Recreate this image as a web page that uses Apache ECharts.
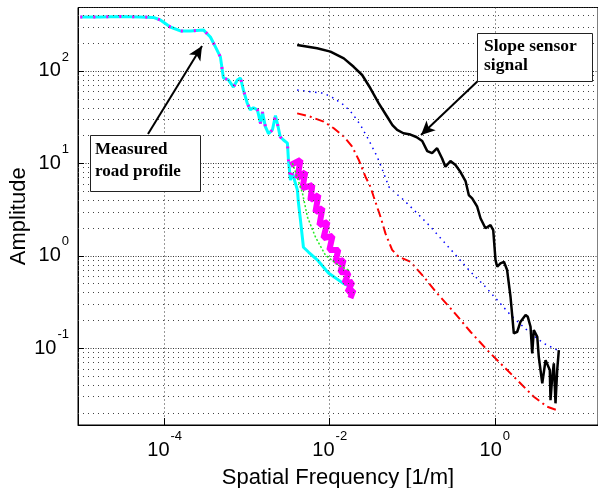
<!DOCTYPE html>
<html>
<head>
<meta charset="utf-8">
<script src="https://cdn.jsdelivr.net/npm/echarts@6/dist/echarts.min.js"></script>
<style>
  html, body { margin: 0; padding: 0; background: #fff; }
  #chart { width: 598px; height: 488px; }
</style>
</head>
<body>
<div id="chart"></div>
<script>
  // measured road profile (cyan trace, magenta trace overlays it at low freq)
  var freqCyan = [9.5e-6, 1.66e-5, 2.9e-5, 5.07e-5, 7.3e-5, 8.87e-5, 1.17e-4, 1.55e-4, 2.05e-4, 2.94e-4,
    3.58e-4, 4.12e-4, 4.73e-4, 5.15e-4, 5.92e-4, 6.81e-4, 7.60e-4, 8.30e-4, 9.0e-4, 1.0e-3,
    1.09e-3, 1.19e-3, 1.33e-3, 1.45e-3, 1.53e-3, 1.66e-3, 1.81e-3, 2.02e-3, 2.20e-3, 2.32e-3,
    2.52e-3, 2.75e-3, 3.07e-3, 3.16e-3, 3.34e-3, 3.53e-3, 4.06e-3, 4.18e-3, 4.42e-3, 4.80e-3,
    5.52e-3, 7.10e-3, 9.64e-3, 1.43e-2, 1.88e-2];
  var ampCyan = [384, 384, 389, 384, 380, 356, 299, 271, 271, 278,
    233, 182, 142, 84, 80, 67, 80, 84, 62, 45,
    38, 40, 38, 27, 36, 25, 21, 23, 33, 27,
    19.3, 17.9, 16.6, 10.9, 6.6, 7.87, 5.15, 3.73, 2.44, 1.24,
    1.10, 0.90, 0.652, 0.51, 0.45];

  // magenta trace, noisy part above ~3e-3 1/m
  var freqMagenta = [3.34e-3, 4.42e-3, 4.06e-3, 5.07e-3, 4.67e-3, 6.16e-3, 5.83e-3, 7.29e-3, 6.71e-3, 8.16e-3,
    7.50e-3, 9.38e-3, 8.39e-3, 1.08e-2, 9.90e-3, 1.27e-2, 1.17e-2, 1.47e-2, 1.35e-2, 1.69e-2,
    1.51e-2, 1.88e-2, 1.64e-2, 1.94e-2, 1.78e-2];
  var ampMagenta = [9.6, 10.9, 6.95, 8.07, 5.42, 5.84, 4.02, 4.55, 2.98, 3.29,
    2.15, 2.32, 1.56, 1.64, 1.16, 1.16, 0.857, 0.90, 0.668, 0.652,
    0.51, 0.52, 0.406, 0.427, 0.349];

  // green trace
  var freqGreen = [3.53e-3, 4.67e-3, 5.37e-3, 6.71e-3, 8.87e-3, 1.27e-2, 1.69e-2];
  var ampGreen = [10.1, 4.78, 2.63, 1.60, 1.02, 0.794, 0.702];

  // slope sensor signal (black)
  var freqSlope = [4.03e-3, 7.03e-3, 1.02e-2, 1.48e-2, 1.95e-2, 2.47e-2, 3.11e-2, 3.93e-2, 4.97e-2, 5.75e-2,
    6.56e-2, 7.82e-2, 9.5e-2, 0.112, 0.132, 0.152, 0.174, 0.200, 0.230, 0.252,
    0.290, 0.334, 0.384, 0.442, 0.484, 0.532, 0.556, 0.612, 0.671, 0.771,
    0.887, 0.957, 1.02, 1.07, 1.17, 1.29, 1.41, 1.55, 1.70, 1.87,
    2.05, 2.36, 2.51, 2.71, 2.84, 2.97, 3.11, 3.27, 3.41, 3.58,
    3.76, 4.12, 4.32, 4.64, 4.73, 4.97, 5.19, 5.44, 5.70, 5.97];
  var ampSlope = [191, 176, 162, 137, 111, 90.5, 65, 44.7, 32.0, 26.0,
    23.0, 21.2, 20.5, 19.3, 17.5, 13.6, 12.9, 14.6, 11.3, 9.2,
    10.6, 9.6, 8.07, 6.45, 4.55, 4.19, 4.36, 3.40, 2.55, 1.99,
    2.15, 1.90, 0.90, 0.762, 0.830, 0.863, 0.702, 0.361, 0.145, 0.151,
    0.194, 0.229, 0.219, 0.171, 0.0881, 0.157, 0.164, 0.133, 0.0809, 0.0581,
    0.0417, 0.0745, 0.0778, 0.0581, 0.0275, 0.0492, 0.0687, 0.0254, 0.0581, 0.0957];

  // blue dotted
  var freqBlue = [4.03e-3, 5.83e-3, 8.45e-3, 1.12e-2, 1.48e-2, 1.87e-2, 2.36e-2, 2.97e-2, 3.76e-2, 4.52e-2,
    5.19e-2, 6.25e-2, 7.89e-2, 0.115, 0.166, 0.241, 0.350, 0.507, 0.736, 1.07,
    1.55, 2.71, 3.93, 5.70];
  var ampBlue = [62.3, 59.7, 57.4, 50.7, 42.9, 34.8, 26.0, 17.9, 11.8, 7.81,
    5.60, 4.78, 4.02, 2.88, 2.07, 1.42, 0.977, 0.673, 0.483, 0.333,
    0.229, 0.145, 0.113, 0.0957];

  // red dash-dot
  var freqRed = [4.03e-3, 5.83e-3, 8.45e-3, 1.12e-2, 1.48e-2, 1.87e-2, 2.25e-2, 2.71e-2, 3.11e-2, 3.41e-2,
    4.12e-2, 4.73e-2, 5.70e-2, 6.85e-2, 9.5e-2, 0.138, 0.200, 0.318, 0.507, 0.809,
    1.17, 1.87, 2.97, 4.32, 5.70];
  var ampRed = [34.8, 32.0, 28.3, 24.0, 19.5, 15.2, 10.9, 7.18, 5.60, 4.36,
    2.65, 1.75, 1.16, 0.977, 0.863, 0.594, 0.393, 0.248, 0.151, 0.0957,
    0.0687, 0.0453, 0.0299, 0.0233, 0.0214];

  // minor grid lines of the amplitude axis
  var minorGridY = [0.02, 0.03, 0.04, 0.05, 0.06, 0.07, 0.08, 0.09,
    0.2, 0.3, 0.4, 0.5, 0.6, 0.7, 0.8, 0.9,
    2, 3, 4, 5, 6, 7, 8, 9,
    20, 30, 40, 50, 60, 70, 80, 90,
    200, 300, 400];

  function pairs(xs, ys) {
    return xs.map(function (x, i) { return [x, ys[i]]; });
  }

  var sansFont = '"Liberation Sans", Arial, sans-serif';
  var serifFont = '"Liberation Serif", "Times New Roman", serif';

  function powLabel(value) {
    var e = Math.log10(value);
    var r = Math.round(e);
    if (Math.abs(e - r) > 1e-6) return '';
    return '{b|10}{s|' + r + '}';
  }
  var labelRich = {
    b: { fontSize: 20, lineHeight: 20, fontFamily: sansFont, color: '#000' },
    s: { fontSize: 13, lineHeight: 13, fontFamily: sansFont, color: '#000', padding: [0, 0, 28, 1] }
  };

  var chart = echarts.init(document.getElementById('chart'));
  var option = {
    animation: false,
    backgroundColor: '#fff',
    grid: {
      left: 78, top: 7.5, width: 520, height: 417.5,
      show: true, borderColor: '#000', borderWidth: 1, backgroundColor: '#fff',
      containLabel: false, outerBoundsMode: 'none'
    },
    xAxis: {
      type: 'log',
      logBase: 100,
      min: 8.91e-6,
      max: 17.8,
      name: 'Spatial Frequency [1/m]',
      nameLocation: 'middle',
      nameGap: 42,
      nameMoveOverlap: false,
      nameTextStyle: { fontSize: 22, fontFamily: sansFont, color: '#000' },
      axisLine: { lineStyle: { color: '#000', width: 1 } },
      axisTick: { inside: true, length: 7, lineStyle: { color: '#000' } },
      axisLabel: { formatter: powLabel, rich: labelRich, margin: 15, showMinLabel: false, showMaxLabel: false },
      splitLine: { show: true, lineStyle: { color: '#333', type: [1, 3], width: 1 } }
    },
    yAxis: {
      type: 'log',
      min: 0.0148,
      max: 486,
      name: 'Amplitude',
      nameLocation: 'middle',
      nameGap: 48,
      nameMoveOverlap: false,
      nameTextStyle: { fontSize: 22, fontFamily: sansFont, color: '#000' },
      axisLine: { lineStyle: { color: '#000', width: 1 } },
      axisTick: { inside: true, length: 6, lineStyle: { color: '#000' } },
      axisLabel: { formatter: powLabel, rich: labelRich, margin: 9, showMinLabel: false, showMaxLabel: false },
      splitLine: { show: true, lineStyle: { color: '#333', type: [1, 1.5], width: 1 } }
    },
    series: [
      {
        name: 'grid', type: 'line', data: [], z: 1, silent: true,
        markLine: {
          silent: true, symbol: 'none', label: { show: false }, animation: false,
          lineStyle: { color: '#444', type: [1, 4], width: 1 },
          data: minorGridY.map(function (v) { return { yAxis: v }; })
        }
      },
      {
        name: 'cyan', type: 'line', data: pairs(freqCyan, ampCyan), showSymbol: false, z: 2,
        lineStyle: { color: '#00ffff', width: 3 }
      },
      {
        name: 'magenta low', type: 'line', data: pairs(freqCyan.slice(0, 36), ampCyan.slice(0, 36)),
        showSymbol: false, z: 3,
        lineStyle: { color: '#ff00ff', width: 3, type: [2, 11] }
      },
      {
        name: 'magenta', type: 'line', data: pairs(freqMagenta, ampMagenta), showSymbol: false, z: 3,
        lineStyle: { color: '#ff00ff', width: 6 }
      },
      {
        name: 'green', type: 'line', data: pairs(freqGreen, ampGreen), showSymbol: false, z: 4,
        lineStyle: { color: '#22ee22', width: 1.5, type: [2, 2] }
      },
      {
        name: 'blue', type: 'line', data: pairs(freqBlue, ampBlue), showSymbol: false, z: 2,
        lineStyle: { color: '#0000ff', width: 1.5, type: [1.5, 4.5] }
      },
      {
        name: 'red', type: 'line', data: pairs(freqRed, ampRed), showSymbol: false, z: 2,
        lineStyle: { color: '#ff0000', width: 2, type: [9, 4, 2, 4] }
      },
      {
        name: 'slope', type: 'line', data: pairs(freqSlope, ampSlope), showSymbol: false, z: 5,
        lineStyle: { color: '#000', width: 2.5 },
        markLine: {
          silent: true, symbol: ['none', 'arrow'], symbolSize: [10, 14], label: { show: false },
          animation: false,
          lineStyle: { color: '#000', width: 2, type: 'solid' },
          data: [
            [{ x: 148, y: 134 }, { x: 202, y: 46 }],
            [{ x: 481, y: 78 }, { x: 421, y: 135 }]
          ]
        }
      }
    ],
    graphic: [
      {
        type: 'rect', left: 90, top: 135, z: 100,
        shape: { width: 110, height: 56 },
        style: { fill: '#fff', stroke: '#222', lineWidth: 1 }
      },
      {
        type: 'text', left: 95, top: 139, z: 101,
        style: {
          text: 'Measured\nroad profile', font: 'bold 17px ' + serifFont,
          lineHeight: 22, fill: '#000'
        }
      },
      {
        type: 'rect', left: 477, top: 33, z: 100,
        shape: { width: 115, height: 48 },
        style: { fill: '#fff', stroke: '#222', lineWidth: 1 }
      },
      {
        type: 'text', left: 484, top: 37, z: 101,
        style: {
          text: 'Slope sensor\nsignal', font: 'bold 17.5px ' + serifFont,
          lineHeight: 19, fill: '#000'
        }
      }
    ]
  };
  chart.setOption(option);
</script>
</body>
</html>
